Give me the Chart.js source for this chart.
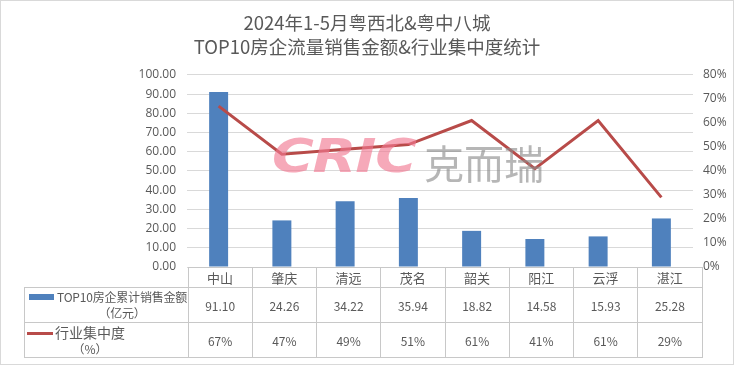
<!DOCTYPE html>
<html>
<head>
<meta charset="utf-8">
<script src="https://cdn.jsdelivr.net/npm/chart.js@4.4.1/dist/chart.umd.min.js"></script>
<style>
    html, body { margin: 0; padding: 0; background: #fff; }
    #wrap {
        position: relative; width: 734px; height: 365px;
        box-sizing: border-box; border: 1px solid #d9d9d9; overflow: hidden;
        font-family: "Noto Sans CJK SC", "Noto Sans", sans-serif; color: #595959;
    }
    #chart { position: absolute; left: -1px; top: -1px; }
    #table { position: absolute; border-collapse: collapse; font-size: 12px; color: #595959; table-layout: fixed; }
    #table td { border: 1px solid #c8c8c8; text-align: center; padding: 0; white-space: nowrap; overflow: hidden; }
    #table td.blank { border: none; }
    #table td.leg { text-align: left; }
    .leg-in { display: flex; align-items: flex-start; padding-left: 4px; }
    .leg-txt { text-align: center; line-height: 16px; white-space: nowrap; }
    .sw { display: inline-block; flex: none; }
    #mark { position: absolute; left: 271px; top: 128px; pointer-events: none; white-space: nowrap; opacity: 0.85; }
    #mark .a {
        display: inline-block; transform: scaleX(1.24); transform-origin: left center;
        font: italic bold 46px "DejaVu Sans", sans-serif; color: rgba(240, 120, 145, 0.75); letter-spacing: -1px;
    }
    #mark .b { position: absolute; left: 152px; top: 4px; font: 400 40px "Noto Sans CJK SC"; color: rgba(140, 140, 140, 0.75); }
</style>
</head>
<body>
<div id="wrap">
    <canvas id="chart" width="734" height="365"></canvas>
    <div id="mark"><span class="a">CRIC</span><span class="b">克而瑞</span></div>
    <table id="table"></table>
</div>
<script>
const titleLines = ['2024年1-5月粤西北&粤中八城', 'TOP10房企流量销售金额&行业集中度统计'];
const cities = ['中山', '肇庆', '清远', '茂名', '韶关', '阳江', '云浮', '湛江'];
const salesAmount = [91.10, 24.26, 34.22, 35.94, 18.82, 14.58, 15.93, 25.28];
const concentration = [67, 47, 49, 51, 61, 41, 61, 29];
const salesLabel = ['TOP10房企累计销售金额', '（亿元）'];
const concLabel = ['行业集中度', '（%）'];

const BLUE = '#4f81bd';
const RED = '#b84b49';

const ctx = document.getElementById('chart').getContext('2d');

const chart = new Chart(ctx, {
    data: {
        labels: cities,
        datasets: [
            {
                type: 'line',
                label: concLabel.join(''),
                data: concentration,
                yAxisID: 'y2',
                borderColor: RED,
                borderWidth: 3,
                pointRadius: 0,
                tension: 0,
                order: 0
            },
            {
                type: 'bar',
                label: salesLabel.join(''),
                data: salesAmount,
                yAxisID: 'y',
                backgroundColor: BLUE,
                barPercentage: 0.6,
                categoryPercentage: 0.5,
                order: 1
            }
        ]
    },
    options: {
        responsive: false,
        animation: false,
        layout: { padding: { left: 0, right: 0, top: 0, bottom: 98 } },
        plugins: {
            legend: { display: false },
            tooltip: { enabled: false },
            title: {
                display: true,
                text: titleLines,
                color: '#595959',
                font: { family: '"Noto Sans CJK SC"', size: 18.5, weight: 'normal', lineHeight: 1.35 },
                padding: { top: 10, bottom: 15 }
            }
        },
        scales: {
            x: { display: false },
            y: {
                position: 'left',
                min: 0, max: 100,
                border: { display: false },
                grid: { color: '#d9d9d9', drawTicks: false },
                ticks: {
                    stepSize: 10, padding: 11, color: '#595959',
                    font: { family: '"Open Sans"', size: 12 },
                    callback: (v) => v.toFixed(2)
                },
                afterFit: (axis) => { axis.width = 187; }
            },
            y2: {
                position: 'right',
                min: 0, max: 80,
                border: { display: false },
                grid: { drawOnChartArea: false, drawTicks: false },
                ticks: {
                    stepSize: 10, padding: 10, color: '#595959',
                    font: { family: '"Open Sans"', size: 12 },
                    callback: (v) => v + '%'
                },
                afterFit: (axis) => { axis.width = 41; }
            }
        }
    }
});

// data table under the plot, columns follow the chart's category scale
function buildTable() {
    const area = chart.chartArea;
    const table = document.getElementById('table');
    const tableLeft = 23;
    const legW = area.left - 1 - tableLeft;
    const colW = (area.right - area.left) / cities.length;
    table.style.left = tableLeft + 'px';
    table.style.top = (area.bottom - 1) + 'px';

    let html = '<tr style="height:20px"><td class="blank" style="width:' + legW + 'px"></td>';
    cities.forEach(c => {
        html += '<td style="width:' + colW + 'px;font-size:13px">' + c + '</td>';
    });
    html += '</tr>';

    html += '<tr style="height:35px"><td class="leg"><div class="leg-in">'
        + '<span class="sw" style="width:25px;height:6px;margin-top:5px;background:' + BLUE + '"></span>'
        + '<div class="leg-txt" style="margin-left:3px;letter-spacing:-0.2px">' + salesLabel[0] + '<br>' + salesLabel[1] + '</div></div></td>';
    salesAmount.forEach(v => { html += '<td>' + v.toFixed(2) + '</td>'; });
    html += '</tr>';

    html += '<tr style="height:35px"><td class="leg"><div class="leg-in" style="padding-left:2px">'
        + '<span class="sw" style="width:26px;height:3px;margin-top:8px;background:' + RED + '"></span>'
        + '<div class="leg-txt" style="margin-left:2px"><span style="font-size:14px">' + concLabel[0] + '</span><br>' + concLabel[1] + '</div></div></td>';
    concentration.forEach(v => { html += '<td>' + v + '%</td>'; });
    html += '</tr>';

    table.innerHTML = html;
}

buildTable();
</script>
</body>
</html>
